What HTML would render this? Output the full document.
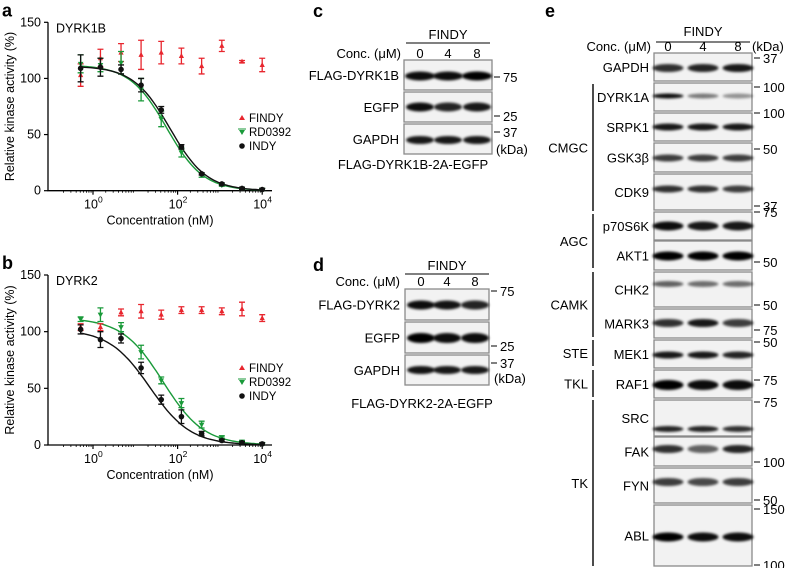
<!DOCTYPE html>
<html><head><meta charset="utf-8">
<style>
html,body{margin:0;padding:0;background:#fff}
svg{display:block;font-family:"Liberation Sans",sans-serif}
</style></head>
<body>
<svg id="fig" width="788" height="568" viewBox="0 0 788 568" xmlns="http://www.w3.org/2000/svg">
<defs>
<filter id="blur" x="-30%" y="-100%" width="160%" height="300%"><feGaussianBlur stdDeviation="1.4"/></filter>
</defs>
<g id="root"></g>
</svg>
<script>
// ---------- chart data ----------
var concentrations = [0.51, 1.5, 4.6, 13.7, 41, 123, 370, 1111, 3333, 10000];
var seriesNames = ["FINDY", "RD0392", "INDY"];
var yTicks = [0, 50, 100, 150];
var xTickExps = [0, 2, 4];
// panel a (DYRK1B)
var aFindy = [103, 118, 123, 121, 123, 120, 111, 129, 115, 112];
var aFindyErr = [10, 8, 8, 13, 10, 7, 7, 5, 1, 6];
var aRd = [113, 112, 114, 90, 64, 34, 14, 5, 2, 1];
var aRdErr = [8, 6, 10, 10, 7, 4, 2, 1, 1, 1];
var aIndy = [109, 110, 108, 94, 72, 39, 15, 6, 2, 1];
var aIndyErr = [12, 8, 4, 6, 3, 2, 1, 1, 1, 1];
var aRdFit = [112, 0, 55, 1.0];   // top, bottom, IC50 (nM), hill
var aIndyFit = [111, 0, 66, 1.0];
// panel b (DYRK2)
var bFindy = [104, 104, 117, 118, 115, 119, 119, 118, 120, 112];
var bFindyErr = [3, 3, 3, 6, 4, 3, 3, 3, 6, 3];
var bRd = [111, 115, 104, 82, 57, 37, 18, 7, 3, 1];
var bRdErr = [2, 6, 4, 6, 3, 4, 3, 1, 1, 1];
var bIndy = [102, 93, 94, 68, 40, 25, 10, 4, 2, 1];
var bIndyErr = [4, 7, 4, 5, 4, 6, 2, 1, 1, 1];
var bRdFit = [112, 0, 45, 0.9];
var bIndyFit = [102, 0, 22, 0.9];

var NS = "http://www.w3.org/2000/svg";
var root = document.getElementById("root");
function mk(tag, attrs, parent, txt) {
  var e = document.createElementNS(NS, tag);
  for (var k in attrs) e.setAttribute(k, attrs[k]);
  if (txt !== undefined) e.textContent = txt;
  (parent || root).appendChild(e);
  return e;
}
var colors = {FINDY: "#e8262e", RD0392: "#1a9a3a", INDY: "#111"};

function drawPanel(cfg) {
  var g = mk("g", {});
  
  
  function xs(v) { return 93 + Math.log10(v) * 42.3; }
  function ys(v) { return cfg.y0 - v * (cfg.y0 - cfg.y150) / 150; }
  var lt = mk("text", {x: 2, y: cfg.y150 - 6, "font-size": 18, "font-weight": "bold"}, g, cfg.letter);
  
  
  var ax = mk("path", {d: "M48," + cfg.y150 + " V" + cfg.y0 + " H272", stroke: "#000", "stroke-width": 1.3, fill: "none"}, g);
  
  
  yTicks.forEach(function (t) {
    mk("line", {x1: 44, x2: 48, y1: ys(t), y2: ys(t), stroke: "#000", "stroke-width": 1.2}, g);
    var tl = mk("text", {x: 41, y: ys(t) + 4, "font-size": 12.5, "text-anchor": "end"}, g, t);
    
    
  });
  xTickExps.forEach(function (e) {
    var x = xs(Math.pow(10, e));
    mk("line", {x1: x, x2: x, y1: cfg.y0, y2: cfg.y0 + 4, stroke: "#000", "stroke-width": 1.2}, g);
    var tl = mk("text", {x: x - 2, y: cfg.y0 + 18, "font-size": 12.5, "text-anchor": "middle"}, g, "10");
    
    
    mk("text", {x: x + 5, y: cfg.y0 + 12, "font-size": 8.5}, g, e);
  });
  for (var d = -1; d < 5; d++) for (var m = 2; m < 10; m++) {
    var xv = xs(m * Math.pow(10, d));
    if (xv > 50 && xv < 272) mk("line", {x1: xv, x2: xv, y1: cfg.y0, y2: cfg.y0 + 2, stroke: "#000", "stroke-width": 0.8}, g);
  }
  var yt = mk("text", {transform: "translate(14," + ((cfg.y0 + cfg.y150) / 2) + ") rotate(-90)", "font-size": 12.5, "text-anchor": "middle"}, g, "Relative kinase activity (%)");
  
  
  var xt = mk("text", {x: 160, y: cfg.y0 + 34, "font-size": 12.5, "text-anchor": "middle"}, g, "Concentration (nM)");
  
  
  var tt = mk("text", {x: 56, y: cfg.y150 + 10, "font-size": 12.5}, g, cfg.title);
  
  
  [[cfg.rdFit, "RD0392"], [cfg.indyFit, "INDY"]].forEach(function (f) {
    var p = f[0], pts = [];
    for (var lx = -0.3; lx <= 4.001; lx += 0.05) {
      var c = Math.pow(10, lx);
      var v = p[1] + (p[0] - p[1]) / (1 + Math.pow(c / p[2], p[3]));
      pts.push(xs(c).toFixed(1) + "," + ys(v).toFixed(1));
    }
    var cl = mk("polyline", {points: pts.join(" "), fill: "none", stroke: colors[f[1]], "stroke-width": 1.4}, g);
    
    
  });
  var sets = [["FINDY", cfg.findy, cfg.findyErr], ["RD0392", cfg.rd, cfg.rdErr], ["INDY", cfg.indy, cfg.indyErr]];
  sets.forEach(function (s) {
    var col = colors[s[0]];
    concentrations.forEach(function (c, i) {
      var x = xs(c), y = ys(s[1][i]), e = s[2][i] * (cfg.y0 - cfg.y150) / 150;
      mk("path", {d: "M" + (x - 3) + "," + (y - e) + "H" + (x + 3) + "M" + x + "," + (y - e) + "V" + (y + e) + "M" + (x - 3) + "," + (y + e) + "H" + (x + 3), stroke: col, "stroke-width": 1.3, fill: "none"}, g);
      var mkr;
      if (s[0] === "FINDY") mkr = mk("path", {d: "M" + x + "," + (y - 3) + "L" + (x + 2.6) + "," + (y + 2) + "L" + (x - 2.6) + "," + (y + 2) + "Z", fill: col}, g);
      else if (s[0] === "RD0392") mkr = mk("path", {d: "M" + x + "," + (y + 3) + "L" + (x + 2.8) + "," + (y - 2) + "L" + (x - 2.8) + "," + (y - 2) + "Z", fill: col}, g);
      else mkr = mk("circle", {cx: x, cy: y, r: 2.8, fill: col}, g);
      
      
    });
  });
  seriesNames.forEach(function (n, i) {
    var ly = cfg.legY + i * 14, col = colors[n];
    var lg = mk("g", {}, g);
    
    
    if (n === "FINDY") mk("path", {d: "M242," + (ly - 3) + "L245," + (ly + 2) + "L239," + (ly + 2) + "Z", fill: col}, lg);
    else if (n === "RD0392") { mk("path", {d: "M242," + (ly + 3) + "L245," + (ly - 2) + "L239," + (ly - 2) + "Z", fill: col}, lg); mk("line", {x1: 238, x2: 246, y1: ly - 3, y2: ly - 3, stroke: col}, lg); }
    else mk("circle", {cx: 242, cy: ly, r: 2.8, fill: col}, lg);
    mk("text", {x: 249, y: ly + 4, "font-size": 11.5}, lg, n);
  });
}
drawPanel({name: "chart-dyrk1b", letter: "a", title: "DYRK1B", y0: 190.7, y150: 22.3, legY: 118,
  findy: aFindy, findyErr: aFindyErr, rd: aRd, rdErr: aRdErr, indy: aIndy, indyErr: aIndyErr, rdFit: aRdFit, indyFit: aIndyFit});
drawPanel({name: "chart-dyrk2", letter: "b", title: "DYRK2", y0: 445, y150: 275, legY: 368,
  findy: bFindy, findyErr: bFindyErr, rd: bRd, rdErr: bRdErr, indy: bIndy, indyErr: bIndyErr, rdFit: bRdFit, indyFit: bIndyFit});

// ---------- western blots ----------
var FS = 13;
function band(parent, x, y, w, h, dark) {
  var b = mk("ellipse", {cx: x, cy: y, rx: w / 2, ry: h / 2, fill: "rgba(0,0,0," + dark + ")", filter: "url(#blur)"}, parent);
  
  
}
function blotHeader(g, x0, x1, lanes, yF, yLine, yC) {
  mk("text", {x: (x0 + x1) / 2, y: yF, "font-size": FS, "text-anchor": "middle"}, g, "FINDY");
  mk("line", {x1: x0, x2: x1, y1: yLine, y2: yLine, stroke: "#000", "stroke-width": 1}, g);
  mk("text", {x: x0 - 5, y: yC, "font-size": FS, "text-anchor": "end"}, g, "Conc. (\u03bcM)");
  ["0", "4", "8"].forEach(function (t, i) { mk("text", {x: lanes[i], y: yC, "font-size": FS, "text-anchor": "middle"}, g, t); });
}
function blotBox(g, x0, x1, y0, y1, label, lanes, bandY, darks, bw, bh) {
  var bx = mk("g", {}, g);
  
  
  mk("rect", {x: x0, y: y0, width: x1 - x0, height: y1 - y0, fill: "#f2f2f2", stroke: "#8a8a8a", "stroke-width": 1.3}, bx);
  lanes.forEach(function (lx, i) { band(bx, lx, bandY, bw, bh, darks[i]); });
  mk("text", {x: x0 - 5, y: (y0 + y1) / 2 + 5, "font-size": FS, "text-anchor": "end"}, bx, label);
}
function kda(g, x, y, t) {
  mk("line", {x1: x, x2: x + 6, y1: y, y2: y, stroke: "#000", "stroke-width": 1}, g);
  mk("text", {x: x + 9, y: y + 5, "font-size": FS}, g, t);
}

// panel c
var gc = mk("g", {});


mk("text", {x: 313, y: 17, "font-size": 18, "font-weight": "bold"}, gc, "c");
var lc = [420, 448, 477];
blotHeader(gc, 406, 490, lc, 39, 43, 58);
blotBox(gc, 404, 492, 60, 90, "FLAG-DYRK1B", lc, 76, [0.95, 0.95, 1], 30, 9);
blotBox(gc, 404, 492, 92, 122, "EGFP", lc, 107, [0.95, 0.85, 0.9], 28, 9);
blotBox(gc, 404, 492, 124, 154, "GAPDH", lc, 140, [0.9, 0.9, 0.9], 28, 8);
kda(gc, 494, 77, "75"); kda(gc, 494, 116, "25"); kda(gc, 494, 132, "37");
mk("text", {x: 496, y: 154, "font-size": FS}, gc, "(kDa)");
mk("text", {x: 413, y: 169, "font-size": FS, "text-anchor": "middle"}, gc, "FLAG-DYRK1B-2A-EGFP");

// panel d
var gd = mk("g", {});


mk("text", {x: 313, y: 271, "font-size": 18, "font-weight": "bold"}, gd, "d");
var ld = [421, 447, 475];
blotHeader(gd, 405, 489, ld, 270, 274, 286);
blotBox(gd, 405, 489, 289, 320, "FLAG-DYRK2", ld, 305, [0.95, 0.92, 0.85], 28, 9);
blotBox(gd, 405, 489, 322, 353, "EGFP", ld, 338, [1, 0.95, 0.95], 28, 10);
blotBox(gd, 405, 489, 355, 385, "GAPDH", ld, 370, [0.92, 0.9, 0.9], 28, 8);
kda(gd, 491, 291, "75"); kda(gd, 491, 346, "25"); kda(gd, 491, 363, "37");
mk("text", {x: 494, y: 383, "font-size": FS}, gd, "(kDa)");
mk("text", {x: 422, y: 408, "font-size": FS, "text-anchor": "middle"}, gd, "FLAG-DYRK2-2A-EGFP");

// panel e
var ge = mk("g", {});


mk("text", {x: 545, y: 17, "font-size": 18, "font-weight": "bold"}, ge, "e");
var le = [668, 703, 738];
blotHeader(ge, 656, 750, le, 36, 42, 51);
mk("text", {x: 752, y: 51, "font-size": FS}, ge, "(kDa)");
var eBlots = [
  ["GAPDH", 53, 81, 68, [0.8, 0.85, 0.9], 8],
  ["DYRK1A", 83, 111, 96, [0.95, 0.5, 0.4], 5],
  ["SRPK1", 113, 141, 127, [0.9, 0.9, 0.9], 7],
  ["GSK3\u03b2", 143, 172, 158, [0.75, 0.75, 0.75], 7],
  ["CDK9", 174, 210, 189, [0.8, 0.8, 0.75], 7],
  ["p70S6K", 212, 240, 226, [0.95, 0.9, 0.9], 9],
  ["AKT1", 241, 270, 256, [1, 1, 1], 9],
  ["CHK2", 272, 307, 284, [0.6, 0.55, 0.55], 6],
  ["MARK3", 309, 338, 323, [0.8, 0.9, 0.75], 8],
  ["MEK1", 340, 368, 355, [0.9, 0.9, 0.85], 7],
  ["RAF1", 370, 398, 385, [1, 0.95, 0.95], 10],
  ["SRC", 400, 436, 429, [0.85, 0.85, 0.8], 6],
  ["FAK", 437, 466, 449, [0.8, 0.6, 0.85], 8],
  ["FYN", 468, 503, 482, [0.75, 0.7, 0.75], 8],
  ["ABL", 505, 566, 537, [1, 0.95, 0.95], 9]
];
eBlots.forEach(function (r) { blotBox(ge, 654, 752, r[1], r[2], r[0], le, r[3], r[4], 31, r[5]); });
var eKda = [[58, "37"], [87, "100"], [113, "100"], [149, "50"], [206, "37"], [212, "75"], [262, "50"], [305, "50"], [330, "75"], [342, "50"], [380, "75"], [402, "75"], [462, "100"], [500, "50"], [509, "150"], [565, "100"]];
eKda.forEach(function (k) { kda(ge, 754, k[0], k[1]); });
var groups = [["CMGC", 84, 211], ["AGC", 214, 268], ["CAMK", 272, 337], ["STE", 340, 366], ["TKL", 370, 397], ["TK", 400, 566]];
groups.forEach(function (gr) {
  var gg = mk("g", {}, ge);
  
  
  mk("line", {x1: 593, x2: 593, y1: gr[1], y2: gr[2], stroke: "#000", "stroke-width": 1.4}, gg);
  mk("text", {x: 588, y: (gr[1] + gr[2]) / 2 + 5, "font-size": FS, "text-anchor": "end"}, gg, gr[0]);
});
</script>
</body></html>
